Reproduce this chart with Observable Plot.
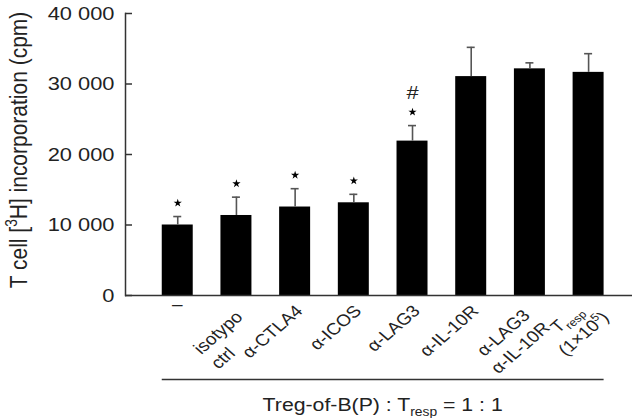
<!DOCTYPE html>
<html><head><meta charset="utf-8">
<script src="https://cdn.jsdelivr.net/npm/d3@7"></script>
<script src="https://cdn.jsdelivr.net/npm/@observablehq/plot@0.6"></script>
<style>
html,body{margin:0;padding:0;background:#fff;}
</style></head><body><div id="chart"></div>
<script>
// ---------- data ----------
const categories = ["none", "isotypo ctrl", "α-CTLA4", "α-ICOS", "α-LAG3", "α-IL-10R", "α-LAG3 α-IL-10R", "Tresp 1x10^5"];
const categoryLabels = [["–"], ["isotypo", "ctrl"], ["α-CTLA4"], ["α-ICOS"], ["α-LAG3"], ["α-IL-10R"], ["α-LAG3", "α-IL-10R"], ["T_{resp}", "(1×10^{5})"]];
const values = [10000, 11350, 12550, 13150, 21900, 31050, 32150, 31650];
const sdUpper = [1200, 2600, 2600, 1200, 2200, 4150, 850, 2650];
const starMark = [true, true, true, true, true, false, false, false];
const hashMark = [false, false, false, false, true, false, false, false];
const yTicks = [0, 10000, 20000, 30000, 40000];
const yTickLabels = ["0", "10 000", "20 000", "30 000", "40 000"];
const yLabel = "T cell [^{3}H] incorporation (cpm)";
const groupLabel = "Treg-of-B(P) : T_{resp} = 1 : 1";

// ---------- layout / style ----------
const W = 632, H = 418;
const SX = 1.15;               // horizontal text stretch
const FONT = "'Liberation Sans', Arial, Helvetica, sans-serif";
const INK = "#222", AXIS = "#333";
const ROT = -45;
const labelLayout = [
  {anchor: "dash", dx: 0, dy: 15},
  {anchor: "start", dx: -34.6, dy: 60},
  {anchor: "end", dx: 9, dy: 17},
  {anchor: "end", dx: 9, dy: 17},
  {anchor: "end", dx: 9, dy: 17},
  {anchor: "end", dx: 9, dy: 17},
  {anchor: "middle", dx: -18, dy: 45},
  {anchor: "middle", dx: -13.5, dy: 31}
];
const CAT_FS = 16.5, CAT_LH = 21;

const data = categories.map((c, i) => ({cat: c, value: values[i], top: values[i] + sdUpper[i], star: starMark[i], hash: hashMark[i]}));

const plot = Plot.plot({
  width: W, height: H,
  marginLeft: 125, marginRight: 0, marginTop: 13, marginBottom: 123,
  style: {fontFamily: FONT, fontSize: "19px", color: INK, background: "white"},
  x: {domain: categories, paddingInner: 0.472, paddingOuter: 0.555, align: 0.564, round: false, axis: null},
  y: {domain: [0, 40000]},
  marks: [
    Plot.barY(data, {x: "cat", y: "value", fill: "#000"}),
    Plot.ruleX(data, {x: "cat", y1: "value", y2: "top", stroke: "#555", strokeWidth: 1.6}),
    Plot.tickY(data, {x: "cat", y: "top", stroke: "#555", strokeWidth: 1.6, insetLeft: 11.5, insetRight: 11.5}),
    Plot.dot(data.filter(d => d.star), {x: "cat", y: "top", dy: -13.5, symbol: "star", r: 2.6, fill: "#000", stroke: null}),
    Plot.text(data.filter(d => d.hash), {x: "cat", y: "top", dy: -33, text: () => "#", fontSize: 19, fill: INK}),
    Plot.axisY({ticks: yTicks, tickSize: -7, tickPadding: 18, tickFormat: d => yTickLabels[yTicks.indexOf(d)], stroke: AXIS, strokeWidth: 1.5, fontSize: 19, label: null}),
    Plot.frame({anchor: "left", stroke: AXIS, strokeWidth: 1.5}),
    Plot.ruleY([0], {stroke: AXIS, strokeWidth: 1.5}),
    Plot.ruleY([0], {x1: () => categories[0], x2: () => categories[categories.length - 1], dy: 84, stroke: AXIS, strokeWidth: 1.5})
  ]
});
document.getElementById("chart").appendChild(plot);

// ---------- text stretch ----------
function stretch(el) {
  const tr = el.getAttribute("transform");
  if (tr) {
    const m = tr.match(/^\s*translate\(\s*([-\d.e]+)[ ,]+([-\d.e]+)\s*\)(.*)$/);
    if (m) { el.setAttribute("transform", `translate(${m[1]},${m[2]}) scale(${SX},1)${m[3]}`); }
    return;
  }
  const x = +(el.getAttribute("x") || 0), y = +(el.getAttribute("y") || 0);
  el.removeAttribute("x"); el.removeAttribute("y");
  el.setAttribute("transform", `translate(${x},${y}) scale(${SX},1)`);
}
const svg = d3.select(plot);
svg.selectAll("text").each(function () { stretch(this); });

// ---------- rich text helper ----------
function addRich(textSel, markup, fs) {
  const re = /([_^])\{([^}]*)\}/g; let last = 0, m; const seg = [];
  while ((m = re.exec(markup))) {
    if (m.index > last) seg.push({t: markup.slice(last, m.index), k: 0});
    seg.push({t: m[2], k: m[1] === "_" ? 1 : -1});
    last = re.lastIndex;
  }
  if (last < markup.length) seg.push({t: markup.slice(last), k: 0});
  let cur = 0;
  for (const s of seg) {
    const target = s.k === 1 ? 0.28 * fs : s.k === -1 ? -0.4 * fs : 0;
    const ts = textSel.append("tspan").text(s.t);
    if (target - cur !== 0) ts.attr("dy", target - cur);
    if (s.k) ts.attr("font-size", 0.65 * fs);
    cur = target;
  }
}

// ---------- scales ----------
const xs = plot.scale("x"), ys = plot.scale("y");
let xApply = xs.apply, yApply = ys.apply;
if (typeof xApply !== "function") {
  const b = d3.scaleBand().domain(xs.domain).range(xs.range).paddingInner(xs.paddingInner).paddingOuter(xs.paddingOuter).align(xs.align);
  xApply = v => b(v);
}
if (typeof yApply !== "function") {
  const l = d3.scaleLinear().domain(ys.domain).range(ys.range);
  yApply = v => l(v);
}
const bw = xs.bandwidth;
const base = yApply(0);

// ---------- category labels ----------
const g = svg.append("g").attr("font-family", FONT).attr("fill", INK).attr("font-size", CAT_FS);
categories.forEach((c, i) => {
  const cx = xApply(c) + bw / 2;
  const L = labelLayout[i];
  const px = cx + L.dx, py = base + L.dy;
  const lines = categoryLabels[i];
  if (L.anchor === "dash") {
    const gg = g.append("g").attr("transform", `translate(${px},${py}) scale(${SX},1)`);
    const t = gg.append("text").attr("text-anchor", "middle");
    addRich(t, lines[0], CAT_FS);
    return;
  }
  const n = lines.length;
  const y0 = L.anchor === "middle" ? -(n - 1) / 2 * CAT_LH + 0.36 * CAT_FS : 0;
  const outer = g.append("g").attr("transform", `translate(${px},${py})`);
  const mid = outer.append("g").attr("transform", `scale(${SX},1)`);
  const inner = mid.append("g").attr("transform", `rotate(${ROT})`);
  lines.forEach((ln, j) => {
    const t = inner.append("text")
      .attr("text-anchor", L.anchor)
      .attr("x", 0)
      .attr("y", y0 + j * CAT_LH);
    addRich(t, ln, CAT_FS);
  });
});

// ---------- y label ----------
const yl = svg.append("text").attr("font-family", FONT).attr("font-size", 21).attr("fill", INK)
  .attr("text-anchor", "middle")
  .attr("transform", `translate(27,${(yApply(40000) + base) / 2 - 4}) scale(${SX},1) rotate(-90)`);
addRich(yl, yLabel, 21);

// ---------- group label ----------
const xl = xApply(categories[0]), xr = xApply(categories[categories.length - 1]) + bw;
const gl = svg.append("text").attr("font-family", FONT).attr("font-size", 18.5).attr("fill", INK)
  .attr("text-anchor", "middle")
  .attr("transform", `translate(${(xl + xr) / 2},${base + 116}) scale(${SX},1)`);
addRich(gl, groupLabel, 18.5);
</script>
</body></html>
